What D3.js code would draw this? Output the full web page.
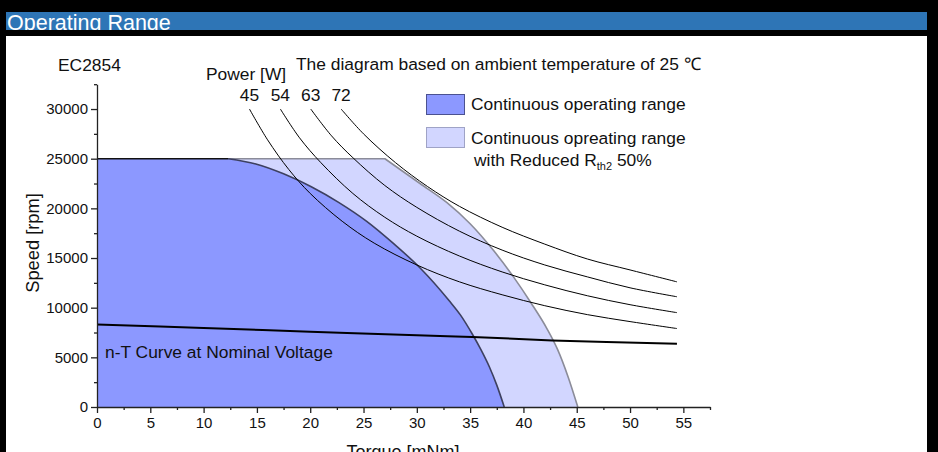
<!DOCTYPE html>
<html><head><meta charset="utf-8">
<script src="https://cdn.jsdelivr.net/npm/d3@7"></script>
<style>
html,body{margin:0;padding:0;background:#000;overflow:hidden;}
svg{display:block;font-family:"Liberation Sans",Arial,sans-serif;}
</style></head>
<body>
<svg id="c" width="938" height="452"></svg>
<script>
// ---- data ----
const xTicks = [0,5,10,15,20,25,30,35,40,45,50,55];
const xMinor = [2.5,7.5,12.5,17.5,22.5,27.5,32.5,37.5,42.5,47.5,52.5,57.5];
const yTicks = [0,5000,10000,15000,20000,25000,30000];
const yMinor = [2500,7500,12500,17500,22500,27500,32500];

// continuous operating range: flat top then boundary curve [torque mNm, speed rpm]
const contFlat = [[0,25000],[12.3,25000]];
const contCurve = [[12.3,25000],[14.9,24470],[17.5,23480],[20.1,22180],[22.7,20580],[25.3,18690],[27.8,16470],[30.4,13900],[33.0,10750],[34.1,9250],[35.2,7350],[36.0,5800],[36.8,4050],[37.5,2200],[38.2,0]];
// continuous range with reduced Rth2 50%
const reducedFlat = [[0,25000],[27,25000]];
const reducedCurve = [[27,25000],[30.3,22500],[32.8,20600],[35,18450],[37.2,15750],[39.1,13050],[40.7,10500],[42.2,7900],[43.2,5800],[44.2,3000],[45.1,0]];
// n-T curve at nominal voltage
const ntCurve = [[0,8300],[10,7950],[20,7580],[30,7220],[35.2,7050],[42.7,6700],[54.4,6360]];

// power hyperbolas
const powerLabels = ["45","54","63","72"];
const power45 = [[14.3,30000],[16,26900],[18,23900],[20,21500],[23,18700],[26,16500],[30,14300],[34,12600],[38,11300],[42,10200],[46,9300],[50,8600],[54.4,7900]];
const power54 = [[17.2,30000],[19,27100],[21,24600],[24,21500],[27,19100],[30,17200],[34,15200],[38,13600],[42,12300],[46,11200],[50,10300],[54.4,9500]];
const power63 = [[20.05,30000],[22,27300],[24,25100],[27,22300],[30,20100],[34,17700],[38,15800],[42,14300],[46,13100],[50,12000],[54.4,11100]];
const power72 = [[22.9,30000],[25,27500],[28,24600],[31,22200],[34,20200],[38,18100],[42,16400],[46,14900],[50,13800],[54.4,12600]];

// ---- drawing ----
const svg = d3.select("#c");
const W = 938, H = 452;
const FS = 17.4;

// frame
svg.append("rect").attr("x",0).attr("y",0).attr("width",W).attr("height",H).attr("fill","#000");
svg.append("rect").attr("x",6).attr("y",12).attr("width",921).attr("height",18).attr("fill","#2e75b6");
svg.append("text").attr("x",7).attr("y",29.5).attr("fill","#fff").attr("font-size",21.5).text("Operating Range");
svg.append("rect").attr("x",0).attr("y",30).attr("width",W).attr("height",6).attr("fill","#000");
svg.append("rect").attr("x",6).attr("y",36).attr("width",921).attr("height",H-36).attr("fill","#fff");

const x = d3.scaleLinear().domain([0,57.5]).range([97,710]);
const y = d3.scaleLinear().domain([0,32500]).range([407,84.2]);

const lin = d3.line().x(d=>x(d[0])).y(d=>y(d[1]));
const smooth = d3.line().x(d=>x(d[0])).y(d=>y(d[1])).curve(d3.curveMonotoneX);
const catm = d3.line().x(d=>x(d[0])).y(d=>y(d[1])).curve(d3.curveCatmullRom.alpha(0.5));

function edge(flat, curve){ return lin(flat) + smooth(curve).replace(/^M[^CLZ]*/, "L" + x(curve[0][0]) + "," + y(curve[0][1])); }
function area(flat, curve){ return edge(flat, curve) + `L${x(0)},${y(0)}Z`; }

// reduced range (light)
svg.append("path").attr("d",area(reducedFlat,reducedCurve)).attr("fill","#d2d6ff");
svg.append("path").attr("d",edge(reducedFlat,reducedCurve)).attr("fill","none").attr("stroke","#8b8c99").attr("stroke-width",1.6);
// continuous range (dark)
svg.append("path").attr("d",area(contFlat,contCurve)).attr("fill","#8c98ff");
svg.append("path").attr("d",smooth(contCurve)).attr("fill","none").attr("stroke","#3d4060").attr("stroke-width",1.6);
svg.append("path").attr("d",lin(contFlat)).attr("fill","none").attr("stroke","#111").attr("stroke-width",1.6);

// power curves
const powers = [power45,power54,power63,power72];
powers.forEach(pts=>{
  svg.append("path").attr("d",catm(pts)).attr("fill","none").attr("stroke","#000").attr("stroke-width",1);
});
// power labels above curve starts
powers.forEach((pts,i)=>{
  svg.append("text").attr("x",x(pts[0][0])).attr("y",101).attr("text-anchor","middle")
    .attr("font-size",FS).attr("fill","#111").text(powerLabels[i]);
});

// n-T line
svg.append("path").attr("d",catm(ntCurve)).attr("fill","none").attr("stroke","#000").attr("stroke-width",2);

// axes
const gx = svg.append("g").attr("transform",`translate(0,${y(0)})`);
gx.call(d3.axisBottom(x).tickValues(xTicks).tickSize(6).tickSizeOuter(0).tickPadding(4).tickFormat(d3.format("d")));
const gxm = svg.append("g").attr("transform",`translate(0,${y(0)})`);
gxm.call(d3.axisBottom(x).tickValues(xMinor).tickSize(3).tickFormat("").tickSizeOuter(0));
gxm.select(".domain").remove();

const gy = svg.append("g").attr("transform",`translate(${x(0)},0)`);
gy.call(d3.axisLeft(y).tickValues(yTicks).tickSize(6).tickSizeOuter(0).tickPadding(3).tickFormat(d3.format("d")));
const gym = svg.append("g").attr("transform",`translate(${x(0)},0)`);
gym.call(d3.axisLeft(y).tickValues(yMinor).tickSize(3).tickFormat("").tickSizeOuter(0));
gym.select(".domain").remove();

svg.selectAll(".tick text").attr("font-size",15).attr("font-family","Liberation Sans, Arial, sans-serif").attr("fill","#111");
svg.selectAll(".domain, .tick line").attr("stroke","#222").attr("stroke-width",1.3);

// axis titles
svg.append("text").attr("transform","translate(39,243) rotate(-90)").attr("text-anchor","middle")
  .attr("font-size",18.3).attr("fill","#111").text("Speed [rpm]");
svg.append("text").attr("x",403).attr("y",458).attr("text-anchor","middle")
  .attr("font-size",18).attr("fill","#111").text("Torque [mNm]");

// annotations
svg.append("text").attr("x",58).attr("y",71).attr("font-size",FS).attr("fill","#111").text("EC2854");
svg.append("text").attr("x",206).attr("y",80).attr("font-size",FS).attr("fill","#111").text("Power [W]");
svg.append("text").attr("x",296).attr("y",70).attr("font-size",FS).attr("fill","#111").text("The diagram based on ambient temperature of 25 \u2103");
svg.append("text").attr("x",105).attr("y",358).attr("font-size",FS).attr("fill","#111").text("n-T Curve at Nominal Voltage");

// legend
svg.append("rect").attr("x",426.5).attr("y",94.5).attr("width",38).attr("height",20).attr("fill","#8c98ff").attr("stroke","#4b5290").attr("stroke-width",1);
svg.append("text").attr("x",471).attr("y",110).attr("font-size",FS).attr("fill","#111").text("Continuous operating range");
svg.append("rect").attr("x",426.5).attr("y",127.5).attr("width",38).attr("height",20).attr("fill","#d2d6ff").attr("stroke","#9fa3c6").attr("stroke-width",1);
svg.append("text").attr("x",471).attr("y",144).attr("font-size",FS).attr("fill","#111").text("Continuous opreating range");
const t3 = svg.append("text").attr("x",474).attr("y",166).attr("font-size",FS).attr("fill","#111");
t3.append("tspan").text("with Reduced R");
t3.append("tspan").attr("font-size",11).attr("dy",4).text("th2");
t3.append("tspan").attr("dy",-4).text(" 50%");
</script>
</body></html>
